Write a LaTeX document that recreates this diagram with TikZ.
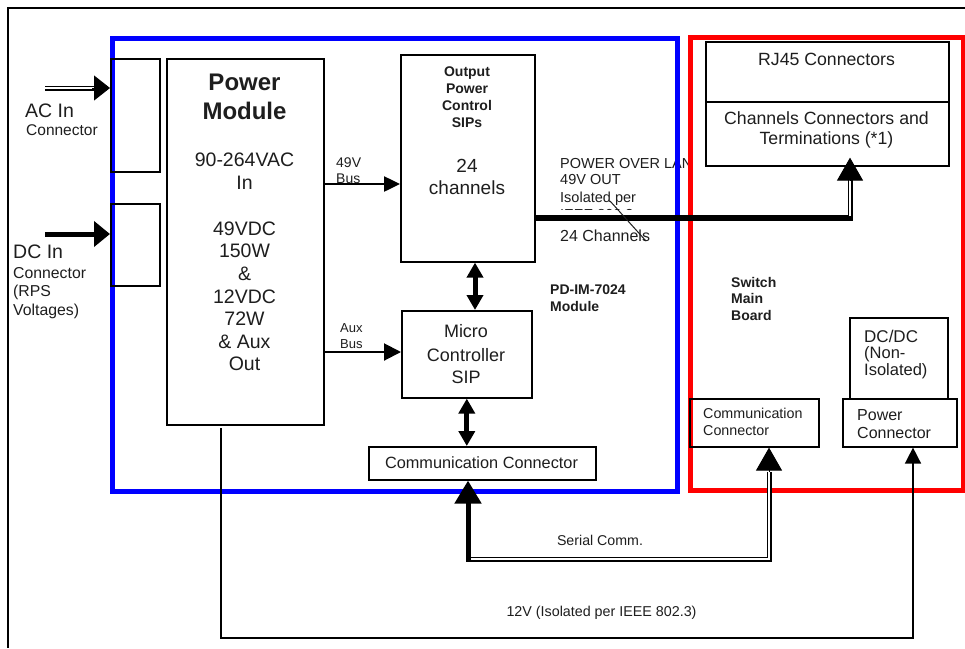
\documentclass[tikz,border=0pt]{standalone}
\usepackage{fontspec}
\setmainfont{Liberation Sans}
\usetikzlibrary{arrows.meta}
\definecolor{ink}{HTML}{1E1E1E}
\definecolor{pblue}{HTML}{0000FF}
\definecolor{pred}{HTML}{FF0000}
\newcommand{\myfs}[1]{\fontsize{#1}{#1}\selectfont}
\begin{document}
\begin{tikzpicture}[x=1pt,y=-1pt,
  blk/.style={draw=black, line width=1.6pt, anchor=north west, inner sep=0pt, fill=none},
  frm/.style={line width=5pt, anchor=north west, inner sep=0pt, fill=none},
  lbl/.style={inner sep=0pt, text=ink, anchor=base},
  lblw/.style={inner sep=0pt, text=ink, anchor=base west},
  dbl/.style={draw=black, double=white, double distance=2pt, line width=1.5pt},
  sh/.style={-{Triangle[width=16pt,length=16pt]}},
  bh/.style={-{Triangle[width=26pt,length=23pt]}},
  ih/.style={-{Triangle[width=25pt,length=16pt]}},
  dh/.style={{Triangle[width=16pt,length=15pt]}-{Triangle[width=16pt,length=15pt]}}
]
\useasboundingbox (0,0) rectangle (965,648);
\fill[white] (0,0) rectangle (965,648);
% outer frame
\draw[line width=2pt] (965,8) -- (8,8) -- (8,648);

% text lying under the frames
\node[lblw, font=\myfs{14.5}] (pol1) at (560,168) {POWER OVER LAN};
\node[lblw, font=\myfs{14.5}] (pol2) at (560,184) {49V OUT};
\node[lblw, font=\myfs{14.5}] (pol3) at (560,202) {Isolated per};
\begin{scope}
  \clip (550,204) rectangle (680,209.6);
  \node[lblw, font=\myfs{14.5}] (pol4) at (560,219.3) {IEEE 802.3};
\end{scope}
\node[lblw, font=\myfs{16}] (pol5) at (560,241) {24 Channels};

% module frames
\node[frm, draw=pblue, minimum width=565pt, minimum height=453pt] (pdim) at (110,36) {};
\node[frm, draw=pred, minimum width=273pt, minimum height=453pt] (smb) at (688,35) {};

% boxes
\node[blk, minimum width=49pt, minimum height=113pt] (acbox) at (110,58) {};
\node[blk, minimum width=49pt, minimum height=82pt] (dcbox) at (110,203) {};
\node[blk, minimum width=157pt, minimum height=366pt] (pm) at (166,58) {};
\node[blk, minimum width=134pt, minimum height=207pt] (sips) at (400,54) {};
\node[blk, minimum width=130pt, minimum height=87pt] (mcu) at (401,310) {};
\node[blk, minimum width=227pt, minimum height=33pt] (comm) at (368,446) {};
\node[blk, minimum width=243pt, minimum height=60pt] (rj) at (705,41) {};
\node[blk, minimum width=243pt, minimum height=64pt] (chan) at (705,101) {};
\node[blk, minimum width=129pt, minimum height=48pt] (rcomm) at (689,398) {};
\node[blk, minimum width=98pt, minimum height=81pt] (dcdc) at (849,317) {};
\node[blk, minimum width=114pt, minimum height=48pt] (pconn) at (842,398) {};

% input arrows
\coordinate (acs) at (45,88);
\coordinate (acm) at (95,88);
\coordinate (acn) at (92,88);
\draw[dbl] (acs) -- (acm);
\draw[line width=1pt, ih] (acn) -- (acbox.west |- acs);
\coordinate (dcs) at (45,234);
\draw[line width=5pt, ih] (dcs) -- (dcbox.west |- dcs);

% buses
\coordinate (b49) at (0,184);
\draw[line width=2.5pt, -{Triangle[width=15pt,length=16pt]}] (pm.east |- b49) -- (sips.west |- b49);
\coordinate (baux) at (0,352);
\draw[line width=2pt, -{Triangle[width=17pt,length=17pt]}] (pm.east |- baux) -- (mcu.west |- baux);

% double arrows
\coordinate (x475) at (475,0);
\draw[line width=5pt, dh] (sips.south -| x475) -- (mcu.north -| x475);
\draw[line width=5pt, dh] (mcu.south) -- (comm.north -| mcu.south);

% power over LAN output
\coordinate (ob) at (853,218);
\coordinate (ovb) at (850,216);
\coordinate (ovt) at (850,176);
\coordinate (ova) at (850,180);
\draw[line width=6pt] (sips.east |- ob) -- (ob);
\draw[dbl] (ovb) -- (ovt);
\draw[line width=1pt, bh] (ova) -- ([yshift=9pt]chan.south -| ova);
\draw[line width=1pt, ink] (610,201) -- (646,241);

% serial comm
\coordinate (sra) at (769,472);
\coordinate (sr) at (769,559);
\coordinate (sl) at (468,559);
\coordinate (slb) at (468,561.5);
\draw[dbl] (sra) -- (sr) -- (sl);
\draw[line width=1pt, bh] (sra) -- (rcomm.south -| sr);
\draw[line width=5pt, bh] (slb) -- (comm.south -| sl);

% 12V
\coordinate (v1) at (221,428);
\coordinate (v2) at (221,638);
\coordinate (v3) at (913,638);
\draw[line width=1.6pt, sh] (v1) -- (v2) -- (v3) -- (pconn.south -| v3);

% labels left
\node[lblw, font=\myfs{19.5}] (acl) at (25,117) {AC In};
\node[lblw, font=\myfs{15.5}] (acl2) at (26,135) {Connector};
\node[lblw, font=\myfs{19.5}] (dcl) at (13,258.5) {DC In};
\node[lblw, font=\myfs{15.8}] (dcl2) at (13,278) {Connector};
\node[lblw, font=\myfs{15.8}] (dcl3) at (13,296.5) {(RPS};
\node[lblw, font=\myfs{15.8}] (dcl4) at (13,315) {Voltages)};

% power module text
\node[lbl, font=\myfs{24}\bfseries] (pmt1) at (244.5,90) {Power};
\node[lbl, font=\myfs{24}\bfseries] (pmt2) at (244.5,119) {Module};
\foreach \i/\t/\y in {3/90-264VAC/166.7, 4/In/189, 5/49VDC/235, 6/150W/257.7, 7/\&/280, 8/12VDC/303, 9/72W/325.5, 10/\& Aux/348, 11/Out/370.5}
  \node[lbl, font=\myfs{19.5}] (pmt\i) at (244.5,\y) {\t};

% SIPs text
\foreach \i/\t/\y in {1/Output/76, 2/Power/93, 3/Control/110, 4/SIPs/127}
  \node[lbl, font=\myfs{14}\bfseries] (spt\i) at (467,\y) {\t};
\node[lbl, font=\myfs{19}] (spt5) at (467,172) {24};
\node[lbl, font=\myfs{19}] (spt6) at (467,194) {channels};

% bus labels
\node[lblw, font=\myfs{14}] (bl1) at (336,167) {49V};
\node[lblw, font=\myfs{14}] (bl2) at (336,183) {Bus};
\node[lblw, font=\myfs{13}] (bl3) at (340,332) {Aux};
\node[lblw, font=\myfs{13}] (bl4) at (340,348) {Bus};

% micro controller
\node[lbl, font=\myfs{18}] (mct1) at (466,337) {Micro};
\node[lbl, font=\myfs{18}] (mct2) at (466,361) {Controller};
\node[lbl, font=\myfs{18}] (mct3) at (466,383) {SIP};

% module name
\node[lblw, font=\myfs{14}\bfseries] (pdn1) at (550,294) {PD-IM-7024};
\node[lblw, font=\myfs{14}\bfseries] (pdn2) at (550,311) {Module};

% communication connector
\node[lbl, font=\myfs{16.3}] (cct) at (481.5,468.5) {Communication Connector};

% switch side
\node[lbl, font=\myfs{17.7}] (rjt) at (826.5,65) {RJ45 Connectors};
\node[lbl, font=\myfs{17.7}] (cht1) at (826.5,124) {Channels Connectors and};
\node[lbl, font=\myfs{17.7}] (cht2) at (826.5,144) {Terminations (*1)};
\node[lblw, font=\myfs{14}\bfseries] (smt1) at (731,287) {Switch};
\node[lblw, font=\myfs{14}\bfseries] (smt2) at (731,303.5) {Main};
\node[lblw, font=\myfs{14}\bfseries] (smt3) at (731,320.5) {Board};
\node[lblw, font=\myfs{14.3}] (rct1) at (703,418) {Communication};
\node[lblw, font=\myfs{14.3}] (rct2) at (703,435) {Connector};
\node[lblw, font=\myfs{17}] (ddt1) at (864,342) {DC/DC};
\node[lblw, font=\myfs{16.5}] (ddt2) at (864,358.5) {(Non-};
\node[lblw, font=\myfs{16.5}] (ddt3) at (864,375.5) {Isolated)};
\node[lblw, font=\myfs{16}] (pct1) at (857,420) {Power};
\node[lblw, font=\myfs{16}] (pct2) at (857,438.5) {Connector};

% wire labels
\node[lbl, font=\myfs{14.2}] (sct) at (600,545) {Serial Comm.};
\node[lbl, font=\myfs{14.3}] (v12t) at (601.5,616) {12V (Isolated per IEEE 802.3)};
\end{tikzpicture}
\end{document}
